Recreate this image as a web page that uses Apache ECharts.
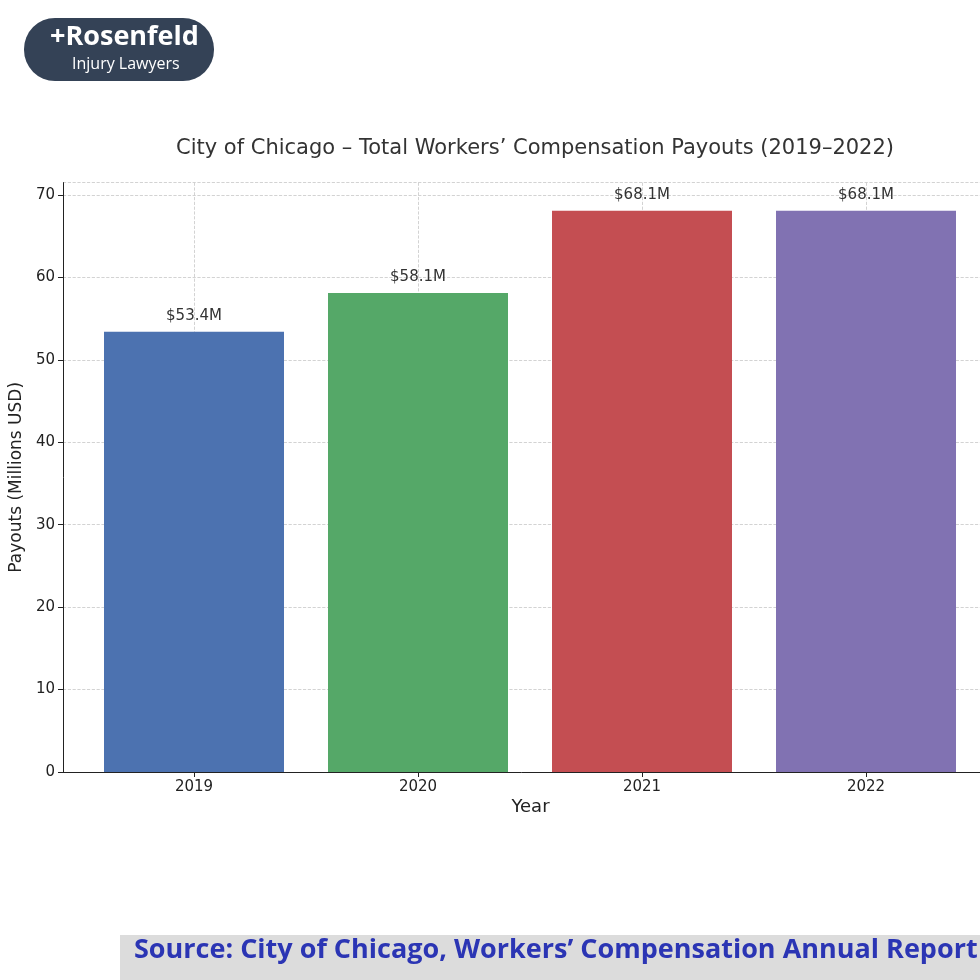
<!DOCTYPE html>
<html>
<head>
<meta charset="utf-8">
<script src="https://cdn.jsdelivr.net/npm/echarts@6/dist/echarts.min.js"></script>
<style>
  body { margin: 0; background: #fff; }
  #chart { width: 980px; height: 980px; }
</style>
</head>
<body>
<div id="chart"></div>
<script>
const years = ['2019', '2020', '2021', '2022']
const payouts = [53.4, 58.1, 68.1, 68.1]
const barLabels = ['$53.4M', '$58.1M', '$68.1M', '$68.1M']
const barColors = ['#4c72b0', '#55a868', '#c44e52', '#8172b2']

const font = 'DejaVu Sans'
const chart = echarts.init(document.getElementById('chart'))

const dashed = { show: true, lineStyle: { color: '#c8c8c8', type: 'dashed', width: 0.8 } }

const option = {
    animation: false,
    textStyle: { fontFamily: font },
    title: {
        text: 'City of Chicago – Total Workers’ Compensation Payouts (2019–2022)',
        left: 530, top: 133, textAlign: 'center',
        textStyle: { fontFamily: font, fontSize: 21, fontWeight: 'normal', color: '#333' }
    },
    grid: [
        // axes frame + horizontal grid
        { left: 62, right: 0, top: 182.6, bottom: 208 },
        // bars, centred on the ticks
        { left: 194, right: 114, top: 182.6, bottom: 208 }
    ],
    xAxis: [
        {
            gridIndex: 0, type: 'value', min: 0, max: 1,
            axisLine: { lineStyle: { color: '#222' } },
            axisTick: { show: false }, axisLabel: { show: false }, splitLine: { show: false },
            name: 'Year', nameLocation: 'middle', nameGap: 26,
            nameTextStyle: { fontSize: 18, color: '#222', padding: [0, 0, 0, 18] }
        },
        {
            gridIndex: 1, type: 'category', data: years, boundaryGap: false,
            axisLine: { show: false },
            axisTick: { show: true, length: 5, lineStyle: { color: '#222' } },
            axisLabel: { fontSize: 15, color: '#222', margin: 8 },
            splitLine: dashed
        }
    ],
    yAxis: [
        {
            gridIndex: 0, type: 'value', min: 0, max: 71.5, interval: 10,
            axisLine: { show: true, lineStyle: { color: '#222' } },
            axisTick: { show: true, length: 5, lineStyle: { color: '#222' } },
            axisLabel: { fontSize: 15, color: '#222', margin: 8, showMaxLabel: false },
            splitLine: dashed,
            name: 'Payouts (Millions USD)', nameLocation: 'middle', nameGap: 36,
            nameTextStyle: { fontSize: 17, color: '#222' }
        },
        { gridIndex: 1, type: 'value', min: 0, max: 71.5, show: false }
    ],
    series: [{
        type: 'bar', xAxisIndex: 1, yAxisIndex: 1, barWidth: 180, z: 1,
        data: payouts.map((v, i) => ({ value: v, itemStyle: { color: barColors[i] } })),
        label: {
            show: true, position: 'top', distance: 8, fontSize: 15, color: '#333',
            formatter: p => barLabels[p.dataIndex]
        }
    }],
    graphic: [
        { type: 'rect', shape: { x: 24, y: 18, width: 190, height: 63, r: 31 }, style: { fill: '#344256' } },
        { type: 'text', left: 50, top: 24, style: { text: '+Rosenfeld', fill: '#fff', font: 'bold 27px "Open Sans"' } },
        { type: 'text', left: 72, top: 56, style: { text: 'Injury Lawyers', fill: '#fff', font: '16px "Open Sans"' } },
        { type: 'rect', shape: { x: 120, y: 935, width: 860, height: 45 }, style: { fill: '#dcdcdc' } },
        { type: 'text', left: 134, top: 937, style: { text: 'Source: City of Chicago, Workers’ Compensation Annual Report', fill: '#2b35b4', font: 'bold 27px "Open Sans"' } }
    ]
}

chart.setOption(option)
</script>
</body>
</html>
